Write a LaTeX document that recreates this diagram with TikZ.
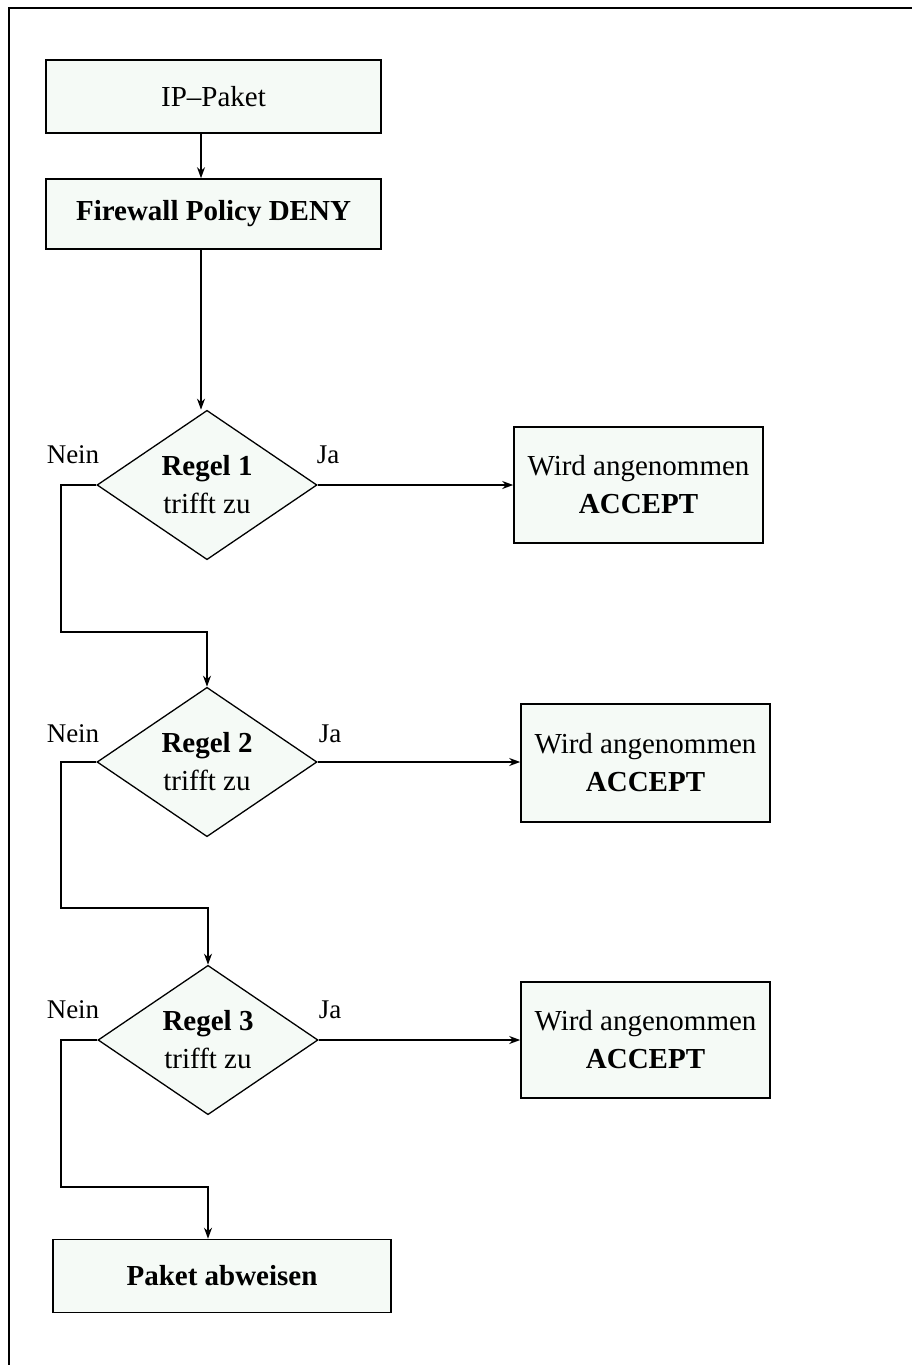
\documentclass[tikz,border=0pt]{standalone}
\usepackage{fontspec}
\setmainfont{Liberation Serif}
\usetikzlibrary{shapes.geometric,arrows.meta}
\definecolor{boxfill}{RGB}{245,250,246}
\tikzset{
  box/.style={draw=black, line width=1.6pt, fill=boxfill, inner sep=0pt, align=center, font=\fontsize{29}{38}\selectfont},
  decision/.style={draw=black, line width=1.3pt, fill=boxfill, diamond, inner sep=0pt, minimum width=220pt, minimum height=144pt, align=center, font=\fontsize{29}{38}\selectfont},
  conn/.style={line width=1.6pt, -{Stealth[length=11pt,width=8pt]}},
  lbl/.style={font=\fontsize{27}{30}\selectfont, inner sep=0pt}
}
\begin{document}
\begin{tikzpicture}[x=1pt,y=-1pt]
\useasboundingbox (0,0) rectangle (912,1365);
% frame (top and left edges only)
\draw[line width=2pt] (912,8) -- (9,8) -- (9,1365);

\node[box, minimum width=335pt, minimum height=73pt] (ip) at (213.5,96.5) {IP--Paket};
\node[box, minimum width=335pt, minimum height=70pt] (fw) at (213.5,214) {\textbf{Firewall Policy DENY}};

\node[decision] (r1) at (207,485) {\textbf{Regel 1}\\trifft zu};
\node[decision] (r2) at (207,762) {\textbf{Regel 2}\\trifft zu};
\node[decision] (r3) at (208,1040) {\textbf{Regel 3}\\trifft zu};

\node[box, minimum width=249pt, minimum height=116pt] (a1) at (638.5,485) {Wird angenommen\\\textbf{ACCEPT}};
\node[box, minimum width=249pt, minimum height=118pt] (a2) at (645.5,763) {Wird angenommen\\\textbf{ACCEPT}};
\node[box, minimum width=249pt, minimum height=116pt] (a3) at (645.5,1040) {Wird angenommen\\\textbf{ACCEPT}};

\node[box, minimum width=338pt, minimum height=73pt] (rej) at (222,1276) {\textbf{Paket abweisen}};

% connectors
\draw[conn] (ip.south -| 201,0) -- (fw.north -| 201,0);
\draw[conn] (fw.south -| 201,0) -- (r1.north -| 201,0);
\draw[conn] (r1.east) -- (a1.west);
\draw[conn] (r2.east) -- (a2.west |- r2.east);
\draw[conn] (r3.east) -- (a3.west |- r3.east);

\coordinate (n1a) at (61,485);
\coordinate (n1b) at (61,632);
\coordinate (n1c) at (207,632);
\draw[conn] (r1.west) -- (n1a) -- (n1b) -- (n1c) -- (r2.north);

\coordinate (n2a) at (61,762);
\coordinate (n2b) at (61,908);
\coordinate (n2c) at (208,908);
\draw[conn] (r2.west) -- (n2a) -- (n2b) -- (n2c) -- (r3.north);

\coordinate (n3a) at (61,1040);
\coordinate (n3b) at (61,1187);
\coordinate (n3c) at (208,1187);
\draw[conn] (r3.west) -- (n3a) -- (n3b) -- (n3c) -- (rej.north -| n3c);

% labels
\node[lbl] (nein1) at (73,455) {Nein};
\node[lbl] (ja1) at (328,455) {Ja};
\node[lbl] (nein2) at (73,734) {Nein};
\node[lbl] (ja2) at (330,734) {Ja};
\node[lbl] (nein3) at (73,1010) {Nein};
\node[lbl] (ja3) at (330,1010) {Ja};
\end{tikzpicture}
\end{document}
